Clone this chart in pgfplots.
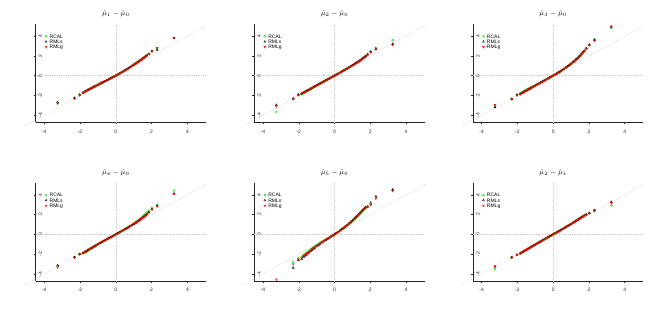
\documentclass[border=0pt]{standalone}
\usepackage{pgfplots}
\usepackage{pgfplotstable}
\pgfplotsset{compat=1.18}
\usepackage{fontspec}
\setmainfont{Liberation Sans}
\definecolor{Rgreen}{RGB}{0,235,0}
\definecolor{Rred}{RGB}{255,0,0}
\definecolor{refgray}{RGB}{170,170,170}
\definecolor{zerogray}{RGB}{200,200,200}

\pgfplotstableread{
x a b c
-3.25 -2.74 -2.70 -2.80
-2.31 -2.27 -2.25 -2.30
-2.02 -1.96 -1.92 -1.98
-1.84 -1.74 -1.72 -1.76
-1.74 -1.63 -1.62 -1.64
-1.66 -1.56 -1.54 -1.55
-1.58 -1.47 -1.46 -1.47
-1.50 -1.40 -1.38 -1.39
-1.42 -1.32 -1.31 -1.31
-1.34 -1.25 -1.23 -1.24
-1.26 -1.17 -1.16 -1.16
-1.18 -1.10 -1.08 -1.09
-1.10 -1.02 -1.01 -1.01
-1.00 -0.93 -0.92 -0.92
-0.90 -0.84 -0.83 -0.83
-0.80 -0.74 -0.74 -0.74
-0.70 -0.65 -0.64 -0.65
-0.60 -0.56 -0.55 -0.55
-0.50 -0.46 -0.46 -0.46
-0.40 -0.37 -0.37 -0.37
-0.30 -0.28 -0.27 -0.28
-0.20 -0.18 -0.18 -0.18
-0.10 -0.09 -0.09 -0.09
0.00 0.00 0.00 0.00
0.10 0.10 0.10 0.10
0.20 0.21 0.20 0.20
0.30 0.31 0.31 0.31
0.40 0.42 0.42 0.42
0.50 0.53 0.52 0.52
0.60 0.64 0.63 0.63
0.70 0.75 0.74 0.74
0.80 0.87 0.86 0.86
0.90 0.99 0.98 0.97
1.00 1.11 1.10 1.09
1.10 1.23 1.22 1.21
1.18 1.33 1.32 1.31
1.26 1.43 1.42 1.41
1.34 1.53 1.52 1.51
1.42 1.64 1.62 1.61
1.50 1.74 1.73 1.71
1.58 1.85 1.83 1.81
1.66 1.96 1.94 1.92
1.74 2.07 2.05 2.03
1.85 2.22 2.20 2.19
2.02 2.49 2.47 2.45
2.31 2.72 2.62 2.80
3.25 3.82 3.80 3.80
}\tabA

\pgfplotstableread{
x a b c
-3.25 -3.67 -2.96 -3.10
-2.31 -2.30 -2.33 -2.34
-2.02 -1.97 -1.92 -1.95
-1.84 -1.87 -1.80 -1.82
-1.74 -1.78 -1.71 -1.72
-1.66 -1.70 -1.63 -1.64
-1.58 -1.62 -1.56 -1.56
-1.50 -1.53 -1.48 -1.48
-1.42 -1.45 -1.40 -1.40
-1.34 -1.36 -1.32 -1.32
-1.26 -1.28 -1.24 -1.24
-1.18 -1.19 -1.16 -1.16
-1.10 -1.10 -1.08 -1.08
-1.00 -1.00 -0.98 -0.98
-0.90 -0.89 -0.88 -0.88
-0.80 -0.79 -0.78 -0.78
-0.70 -0.69 -0.69 -0.69
-0.60 -0.59 -0.59 -0.59
-0.50 -0.49 -0.49 -0.49
-0.40 -0.39 -0.39 -0.39
-0.30 -0.29 -0.29 -0.29
-0.20 -0.20 -0.20 -0.20
-0.10 -0.10 -0.10 -0.10
0.00 0.00 0.00 0.00
0.10 0.10 0.10 0.10
0.20 0.20 0.20 0.20
0.30 0.30 0.30 0.30
0.40 0.41 0.41 0.41
0.50 0.51 0.51 0.51
0.60 0.62 0.61 0.61
0.70 0.72 0.72 0.71
0.80 0.83 0.82 0.82
0.90 0.94 0.93 0.93
1.00 1.05 1.04 1.04
1.10 1.16 1.15 1.15
1.18 1.26 1.25 1.24
1.26 1.36 1.34 1.33
1.34 1.45 1.43 1.42
1.42 1.55 1.53 1.52
1.50 1.66 1.63 1.62
1.58 1.77 1.74 1.73
1.66 1.88 1.85 1.84
1.74 1.99 1.96 1.95
1.85 2.16 2.13 2.12
2.02 2.44 2.40 2.38
2.31 2.80 2.72 2.66
3.25 3.57 3.20 3.12
}\tabB

\pgfplotstableread{
x a b c
-3.25 -3.03 -3.20 -2.96
-2.31 -2.33 -2.36 -2.37
-2.02 -1.95 -1.92 -2.00
-1.84 -1.78 -1.87 -1.89
-1.74 -1.66 -1.76 -1.77
-1.66 -1.58 -1.68 -1.68
-1.58 -1.50 -1.59 -1.60
-1.50 -1.42 -1.51 -1.51
-1.42 -1.35 -1.43 -1.43
-1.34 -1.27 -1.35 -1.35
-1.26 -1.20 -1.27 -1.27
-1.18 -1.13 -1.19 -1.19
-1.10 -1.06 -1.11 -1.11
-1.00 -0.97 -1.01 -1.01
-0.90 -0.87 -0.90 -0.91
-0.80 -0.78 -0.80 -0.81
-0.70 -0.69 -0.70 -0.71
-0.60 -0.59 -0.60 -0.61
-0.50 -0.50 -0.50 -0.51
-0.40 -0.40 -0.40 -0.40
-0.30 -0.30 -0.30 -0.30
-0.20 -0.20 -0.20 -0.20
-0.10 -0.10 -0.10 -0.10
0.00 0.00 0.00 0.00
0.10 0.10 0.10 0.10
0.20 0.21 0.21 0.21
0.30 0.32 0.32 0.32
0.40 0.43 0.44 0.43
0.50 0.55 0.56 0.55
0.60 0.67 0.68 0.67
0.70 0.79 0.81 0.79
0.80 0.92 0.94 0.92
0.90 1.05 1.08 1.05
1.00 1.19 1.22 1.18
1.10 1.33 1.37 1.32
1.18 1.45 1.49 1.43
1.26 1.57 1.62 1.55
1.34 1.70 1.75 1.68
1.42 1.84 1.89 1.82
1.50 1.99 2.04 1.97
1.58 2.15 2.20 2.13
1.66 2.32 2.36 2.30
1.74 2.49 2.52 2.47
1.85 2.74 2.76 2.72
2.02 3.10 3.12 3.08
2.31 3.67 3.62 3.55
3.25 4.80 4.93 4.97
}\tabC

\pgfplotstableread{
x a b c
-3.25 -3.22 -3.13 -3.33
-2.31 -2.30 -2.30 -2.34
-2.02 -2.02 -1.98 -2.00
-1.84 -1.93 -1.86 -1.89
-1.74 -1.84 -1.77 -1.78
-1.66 -1.76 -1.69 -1.70
-1.58 -1.67 -1.61 -1.61
-1.50 -1.58 -1.52 -1.52
-1.42 -1.49 -1.44 -1.43
-1.34 -1.40 -1.35 -1.35
-1.26 -1.31 -1.27 -1.26
-1.18 -1.22 -1.18 -1.18
-1.10 -1.13 -1.10 -1.09
-1.00 -1.02 -0.99 -0.99
-0.90 -0.91 -0.89 -0.89
-0.80 -0.81 -0.79 -0.79
-0.70 -0.70 -0.69 -0.69
-0.60 -0.60 -0.59 -0.59
-0.50 -0.50 -0.49 -0.49
-0.40 -0.40 -0.39 -0.39
-0.30 -0.30 -0.29 -0.29
-0.20 -0.20 -0.20 -0.20
-0.10 -0.10 -0.10 -0.10
0.00 0.00 0.00 0.00
0.10 0.10 0.10 0.10
0.20 0.20 0.20 0.20
0.30 0.30 0.30 0.30
0.40 0.41 0.40 0.40
0.50 0.51 0.51 0.50
0.60 0.62 0.61 0.61
0.70 0.73 0.72 0.71
0.80 0.84 0.83 0.82
0.90 0.96 0.94 0.93
1.00 1.08 1.05 1.04
1.10 1.21 1.17 1.15
1.18 1.32 1.27 1.25
1.26 1.43 1.37 1.35
1.34 1.55 1.48 1.45
1.42 1.67 1.59 1.56
1.50 1.80 1.70 1.66
1.58 1.94 1.81 1.76
1.66 2.08 1.93 1.87
1.74 2.24 2.05 1.99
1.85 2.40 2.24 2.20
2.02 2.70 2.55 2.50
2.31 3.00 2.88 2.83
3.25 4.43 4.12 4.08
}\tabD

\pgfplotstableread{
x a b c
-3.25 nan nan -4.55
-2.31 -2.80 -3.37 -3.00
-2.02 -2.40 -2.60 -2.53
-1.84 -2.28 -2.50 -2.40
-1.74 -2.10 -2.30 -2.20
-1.66 -1.97 -2.17 -2.07
-1.58 -1.86 -2.06 -1.96
-1.50 -1.76 -1.94 -1.85
-1.42 -1.65 -1.83 -1.74
-1.34 -1.54 -1.71 -1.62
-1.26 -1.42 -1.59 -1.50
-1.18 -1.31 -1.47 -1.39
-1.10 -1.21 -1.36 -1.28
-1.00 -1.08 -1.22 -1.15
-0.90 -0.97 -1.09 -1.03
-0.80 -0.85 -0.96 -0.90
-0.70 -0.74 -0.83 -0.78
-0.60 -0.63 -0.71 -0.67
-0.50 -0.52 -0.59 -0.55
-0.40 -0.42 -0.47 -0.44
-0.30 -0.31 -0.35 -0.33
-0.20 -0.21 -0.23 -0.22
-0.10 -0.10 -0.12 -0.11
0.00 0.00 0.00 0.00
0.10 0.12 0.12 0.12
0.20 0.24 0.25 0.25
0.30 0.37 0.39 0.38
0.40 0.49 0.52 0.51
0.50 0.62 0.66 0.64
0.60 0.75 0.79 0.77
0.70 0.88 0.94 0.91
0.80 1.02 1.09 1.05
0.90 1.17 1.25 1.21
1.00 1.33 1.42 1.37
1.10 1.50 1.59 1.54
1.18 1.64 1.73 1.68
1.26 1.78 1.88 1.82
1.34 1.92 2.02 1.96
1.42 2.07 2.17 2.11
1.50 2.23 2.33 2.27
1.58 2.40 2.48 2.43
1.66 2.56 2.63 2.58
1.74 2.70 2.74 2.68
1.85 2.83 2.80 2.76
2.02 3.05 3.20 2.98
2.31 3.70 3.83 3.63
3.25 4.45 4.53 4.40
}\tabE

\pgfplotstableread{
x a b c
-3.25 -3.53 -3.22 -3.27
-2.31 -2.36 -2.31 -2.33
-2.02 -2.08 -2.05 -2.07
-1.84 -1.95 -1.92 -1.93
-1.74 -1.84 -1.81 -1.82
-1.66 -1.75 -1.72 -1.73
-1.58 -1.66 -1.64 -1.64
-1.50 -1.57 -1.55 -1.55
-1.42 -1.49 -1.47 -1.47
-1.34 -1.40 -1.38 -1.38
-1.26 -1.31 -1.30 -1.30
-1.18 -1.23 -1.21 -1.21
-1.10 -1.14 -1.13 -1.13
-1.00 -1.04 -1.03 -1.03
-0.90 -0.93 -0.92 -0.92
-0.80 -0.83 -0.82 -0.82
-0.70 -0.72 -0.72 -0.72
-0.60 -0.62 -0.61 -0.61
-0.50 -0.51 -0.51 -0.51
-0.40 -0.41 -0.41 -0.41
-0.30 -0.31 -0.30 -0.30
-0.20 -0.20 -0.20 -0.20
-0.10 -0.10 -0.10 -0.10
0.00 0.00 0.00 0.00
0.10 0.10 0.10 0.10
0.20 0.20 0.20 0.20
0.30 0.31 0.30 0.30
0.40 0.41 0.41 0.41
0.50 0.52 0.51 0.51
0.60 0.62 0.62 0.61
0.70 0.73 0.72 0.72
0.80 0.84 0.83 0.83
0.90 0.95 0.94 0.94
1.00 1.06 1.05 1.05
1.10 1.17 1.16 1.16
1.18 1.26 1.25 1.25
1.26 1.36 1.34 1.34
1.34 1.45 1.43 1.43
1.42 1.55 1.52 1.52
1.50 1.65 1.62 1.61
1.58 1.75 1.71 1.70
1.66 1.84 1.80 1.79
1.74 1.93 1.89 1.88
1.85 2.02 2.00 1.99
2.02 2.14 2.15 2.13
2.31 2.33 2.45 2.43
3.25 2.93 3.27 3.20
}\tabF

\pgfplotsset{
  qq/.style={
    scale only axis, width=170.5bp, height=98bp,
    xmin=-4.49, xmax=5.04, ymin=-4.71, ymax=5.19,
    anchor=south west, clip=false,
    axis x line*=bottom, axis y line*=left,
    axis line style={line width=0.6bp, black!85},
    xtick={-4,-2,0,2,4}, ytick={-4,-2,0,2,4},
    xticklabels={-4,-2,0,2,4}, yticklabels={-4,-2,0,2,4},
    major tick length=2bp, tick align=outside,
    tick style={line width=0.5bp, black!85},
    ticklabel style={font=\fontsize{5}{6}\selectfont, inner sep=0pt, text=black!85},
    xticklabel style={anchor=center, yshift=-7bp},
    yticklabel style={xshift=7bp, rotate=90, anchor=center},
    title style={at={(0.471,1)}, anchor=center, yshift=4.5bp, font=\fontsize{7.5}{9}\selectfont},
    legend style={draw=none, fill=none, at={(0.055,0.903)}, anchor=north west,
      font=\fontsize{5}{5}\selectfont, inner sep=0pt, row sep=0.5bp, column sep=2.2bp,
      nodes={inner sep=0.3bp, text height=3.7bp, text depth=0.5bp}},
    legend cell align=left,
    legend image code/.code={\draw[##1] plot coordinates {(1.2bp,0bp)};},
  },
  gs/.style={only marks, mark=o, Rgreen, mark size=1.05bp, line width=0.4bp},
  bs/.style={only marks, mark=triangle, black, mark size=1.15bp, line width=0.4bp},
  rs/.style={only marks, mark=triangle, Rred, mark size=1.15bp, line width=0.4bp, mark options={rotate=180}},
  refl/.style={color=refgray, line width=0.4bp, dash pattern=on 0.5bp off 1.3bp, forget plot},
  zerol/.style={color=zerogray, line width=0.35bp, dash pattern=on 0.5bp off 1.3bp, forget plot},
}

\newcommand{\qqpanel}[4]{%
\begin{axis}[qq, at={(#1,#2)}, title={#4}]
\addplot[zerol] coordinates {(-4.49,0) (5.04,0)};
\addplot[zerol] coordinates {(0,-4.71) (0,5.19)};
\addplot[refl] coordinates {(-5.1,-5.1) (5.05,5.05)};
\addplot[gs] table[x=x,y=a] {#3};
\addplot[bs] table[x=x,y=b] {#3};
\addplot[rs] table[x=x,y=c] {#3};
\legend{RCAL,RMLs,RMLg}
\end{axis}}

\begin{document}
\begin{tikzpicture}[x=1bp,y=1bp]
\useasboundingbox (0,0) rectangle (656,317);
\qqpanel{35.5bp}{194.7bp}{\tabA}{$\hat{\mu}_1-\hat{\mu}_0$}
\qqpanel{254.2bp}{194.7bp}{\tabB}{$\hat{\mu}_2-\hat{\mu}_0$}
\qqpanel{472.8bp}{194.7bp}{\tabC}{$\hat{\mu}_3-\hat{\mu}_0$}
\qqpanel{35.5bp}{36bp}{\tabD}{$\hat{\mu}_4-\hat{\mu}_0$}
\qqpanel{254.2bp}{36bp}{\tabE}{$\hat{\mu}_5-\hat{\mu}_0$}
\qqpanel{472.8bp}{36bp}{\tabF}{$\hat{\mu}_2-\hat{\mu}_1$}
\end{tikzpicture}
\end{document}
